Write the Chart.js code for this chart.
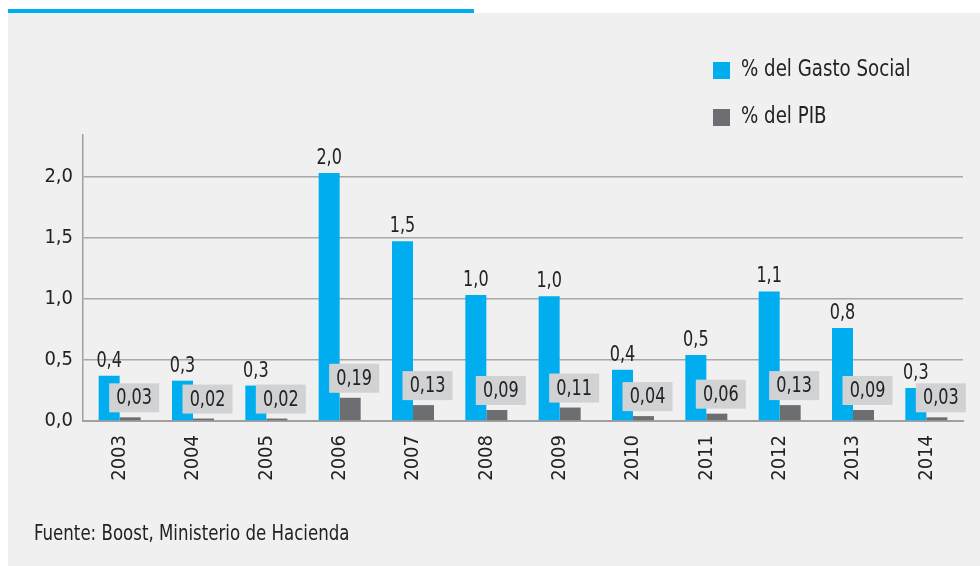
<!DOCTYPE html>
<html>
<head>
<meta charset="utf-8">
<script src="https://cdn.jsdelivr.net/npm/chart.js@4.4.0/dist/chart.umd.min.js"></script>
<style>
  body { margin: 0; background: #fff; width: 980px; height: 566px; position: relative; overflow: hidden; }
  #topline { position: absolute; left: 8px; top: 9px; width: 466px; height: 4px; background: #00aeef; }
  #panel { position: absolute; left: 8px; top: 13px; width: 972px; height: 553px; background: #f0f0f0; }
  #chart { position: absolute; left: 0; top: 0; }
  #source { position: absolute; left: 26px; top: 508px; font-family: "Liberation Sans Narrow", "DejaVu Sans Condensed", sans-serif; font-size: 21px; color: #222; transform: scaleX(0.88); transform-origin: left top; white-space: nowrap; }
</style>
</head>
<body>
<div id="topline"></div>
<div id="panel">
  <canvas id="chart" width="972" height="553"></canvas>
  <div id="source">Fuente: Boost, Ministerio de Hacienda</div>
</div>
<script>
const years = ['2003', '2004', '2005', '2006', '2007', '2008', '2009', '2010', '2011', '2012', '2013', '2014'];
const gastoSocial = [0.37, 0.33, 0.29, 2.03, 1.47, 1.03, 1.02, 0.42, 0.54, 1.06, 0.76, 0.27];
const pib = [0.03, 0.02, 0.02, 0.19, 0.13, 0.09, 0.11, 0.04, 0.06, 0.13, 0.09, 0.03];
const yTicks = [0, 0.5, 1.0, 1.5, 2.0];

const FONT = '"Liberation Sans Narrow", "DejaVu Sans Condensed", sans-serif';
const BLUE = '#00aeef';
const GREY = '#6d6e71';

function fmt(v, d) {
    return v.toFixed(d).replace('.', ',');
}

// texto algo estrechado, como la fuente del original
function narrowText(ctx, text, x, y, sx) {
    ctx.save();
    ctx.translate(x, y);
    ctx.scale(sx, 1);
    ctx.fillText(text, 0, 0);
    ctx.restore();
}

// etiquetas de valores sobre las barras
const valueLabels = {
    id: 'valueLabels',
    afterDatasetsDraw(chart) {
        const ctx = chart.ctx;
        ctx.save();
        ctx.font = '21px ' + FONT;
        ctx.textAlign = 'center';
        ctx.textBaseline = 'bottom';

        chart.getDatasetMeta(0).data.forEach((bar, i) => {
            ctx.fillStyle = '#222';
            narrowText(ctx, fmt(gastoSocial[i], 1), bar.x, bar.y - 4, 0.85);
        });

        chart.getDatasetMeta(1).data.forEach((bar, i) => {
            const w = 50, h = 29;
            const cx = bar.x + 4;
            const bottom = bar.y - 5;
            ctx.fillStyle = '#d1d2d4';
            ctx.fillRect(cx - w / 2, bottom - h, w, h);
            ctx.fillStyle = '#222';
            ctx.textBaseline = 'middle';
            narrowText(ctx, fmt(pib[i], 2), cx, bottom - h / 2 + 1, 0.85);
        });
        ctx.restore();
    }
};

// leyenda a la derecha arriba
const sideLegend = {
    id: 'sideLegend',
    afterDraw(chart) {
        const ctx = chart.ctx;
        ctx.save();
        ctx.font = '23px ' + FONT;
        ctx.textBaseline = 'middle';
        chart.data.datasets.forEach((ds, i) => {
            const y = 57 + i * 47;
            ctx.fillStyle = ds.backgroundColor;
            ctx.fillRect(705, y - 8, 17, 17);
            ctx.fillStyle = '#222';
            narrowText(ctx, ds.label, 733, y, 0.88);
        });
        ctx.restore();
    }
};

new Chart(document.getElementById('chart'), {
    type: 'bar',
    data: {
        labels: years,
        datasets: [
            { label: '% del Gasto Social', data: gastoSocial, backgroundColor: BLUE },
            { label: '% del PIB', data: pib, backgroundColor: GREY }
        ]
    },
    options: {
        responsive: false,
        animation: false,
        datasets: { bar: { barPercentage: 1, categoryPercentage: 0.573 } },
        layout: { padding: { left: 15, right: 17, top: 122, bottom: 75 } },
        plugins: {
            legend: { display: false },
            tooltip: { enabled: false }
        },
        scales: {
            x: {
                grid: { display: false },
                border: { color: '#a0a0a0', width: 2 },
                ticks: {
                    color: '#222',
                    font: { family: FONT, size: 20 },
                    minRotation: 90,
                    maxRotation: 90,
                    padding: 6
                },
                afterFit(scale) { scale.height = 70; }
            },
            y: {
                min: 0,
                max: 2.34,
                grid: { color: '#a8a8a8', lineWidth: 1.5, drawTicks: false },
                border: { color: '#a0a0a0', width: 1.5 },
                ticks: {
                    color: '#222',
                    font: { family: FONT, size: 20 },
                    padding: 10,
                    callback: v => fmt(v, 1)
                },
                afterBuildTicks(scale) {
                    scale.ticks = yTicks.map(v => ({ value: v }));
                },
                afterFit(scale) { scale.width = 60; }
            }
        }
    },
    plugins: [valueLabels, sideLegend]
});
</script>
</body>
</html>
